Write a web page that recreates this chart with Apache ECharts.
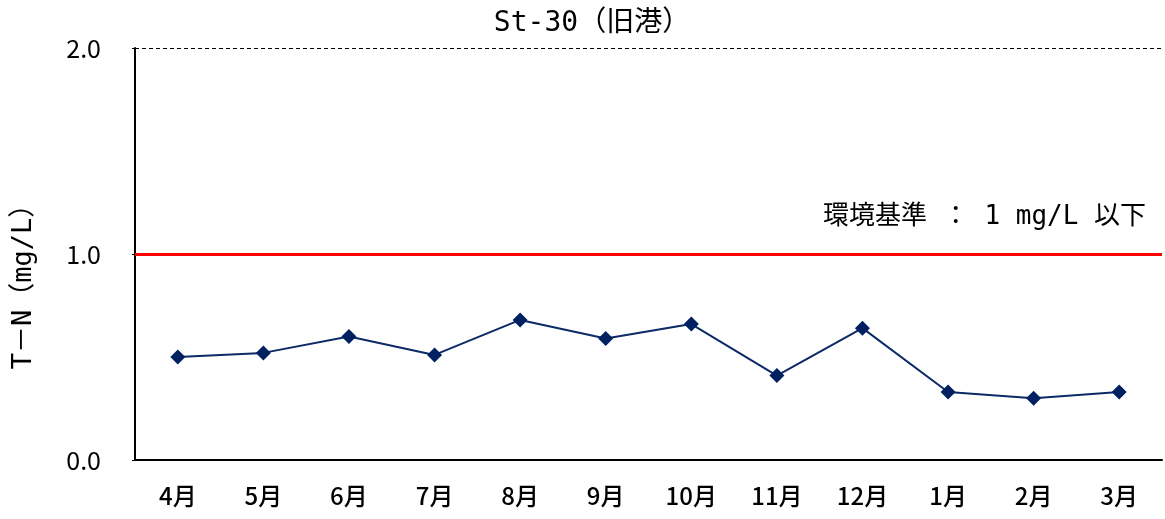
<!DOCTYPE html>
<html>
<head>
<meta charset="utf-8">
<script src="https://cdn.jsdelivr.net/npm/echarts@6/dist/echarts.min.js"></script>
<style>
  html, body, #main { width: 1165px; height: 519px; margin: 0; background: #fff; }
</style>
</head>
<body>
<div id="main"></div>
<script>
  // St-30 monthly T-N readings
  var months = ['4月', '5月', '6月', '7月', '8月', '9月', '10月', '11月', '12月', '1月', '2月', '3月'];
  var tnValues = [0.50, 0.52, 0.60, 0.51, 0.68, 0.59, 0.66, 0.41, 0.64, 0.33, 0.30, 0.33];
  var standardValue = 1.0;
  var yTicks = [0, 1, 2];

  var font = '"DejaVu Sans Mono", "Noto Sans CJK JP", sans-serif';
  var jp = '"Noto Sans CJK JP", sans-serif';
  var chart = echarts.init(document.getElementById('main'));

  chart.setOption({
    animation: false,
    title: {
      text: 'St-30（旧港）',
      left: 587,
      textAlign: 'center',
      top: 5,
      textStyle: { fontFamily: font, fontSize: 28, fontWeight: 'normal', color: '#000' }
    },
    grid: { left: 135, right: 3, top: 48, bottom: 59 },
    xAxis: {
      type: 'category',
      data: months,
      boundaryGap: true,
      axisLine: { lineStyle: { color: '#000', width: 2 } },
      axisTick: { inside: true, length: 9, lineStyle: { color: '#000', width: 1.5 } },
      axisLabel: { fontFamily: jp, fontSize: 24, fontWeight: 500, color: '#000', margin: 24 }
    },
    yAxis: {
      type: 'value',
      min: yTicks[0],
      max: yTicks[yTicks.length - 1],
      interval: 1,
      name: 'T－N（mg/L）',
      nameLocation: 'middle',
      nameGap: 98,
      nameTextStyle: { fontFamily: font, fontSize: 27, color: '#000', padding: [0, 52, 0, 0] },
      axisLine: { show: true, lineStyle: { color: '#000', width: 2 } },
      axisTick: { show: true, length: 3, lineStyle: { color: '#000' } },
      splitLine: { show: false },
      axisLabel: {
        fontFamily: jp, fontSize: 25, color: '#000', margin: 34,
        formatter: function (v) { return v.toFixed(1); }
      }
    },
    series: [{
      type: 'line',
      data: tnValues,
      symbol: 'diamond',
      symbolSize: 15,
      lineStyle: { color: '#0c2a66', width: 2 },
      itemStyle: { color: '#002060' },
      markLine: {
        silent: true,
        symbol: 'none',
        data: [
          {
            yAxis: yTicks[yTicks.length - 1],
            lineStyle: { color: '#000', type: [4, 3], width: 1 },
            label: { show: false }
          },
          {
            yAxis: standardValue,
            lineStyle: { color: '#ff0000', type: 'solid', width: 3 },
            label: {
              show: true,
              position: 'insideEndTop',
              formatter: '環境基準 ： 1 mg/L 以下',
              fontFamily: font, fontSize: 26, color: '#000',
              distance: [16, 24]
            }
          }
        ]
      }
    }]
  });
</script>
</body>
</html>
